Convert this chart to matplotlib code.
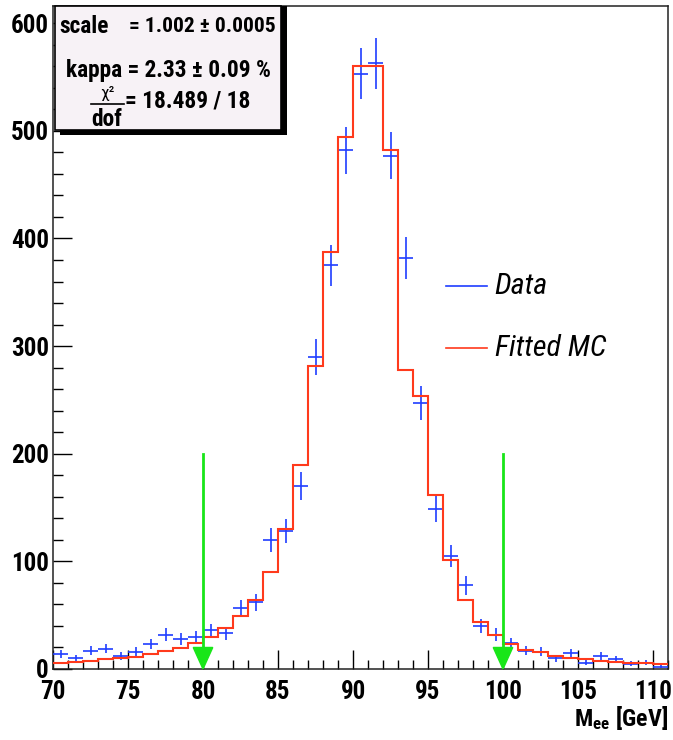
import matplotlib
matplotlib.use('Agg')
import matplotlib.pyplot as plt
from matplotlib import font_manager
from matplotlib.patches import Rectangle, Polygon
from matplotlib.ticker import MultipleLocator
import numpy as np

# 1 GeV bins from 70 to 111
bin_edges = np.arange(70, 112, 1)
data_counts = [14, 10, 17, 19, 12, 16, 23, 32, 28, 30,
               36, 33, 57, 62, 120, 128, 170, 290, 375, 482,
               553, 563, 477, 382, 247, 149, 105, 78, 40, 32,
               24, 17, 16, 10, 15, 6, 12, 9, 5, 6, 2]
mc_counts = [5.6, 6.8, 7.7, 9.3, 10.2, 11.4, 13.9, 17, 19.5, 23.8,
             29.7, 37.7, 49.3, 64, 90.5, 129.7, 190, 281.5, 387, 494.7,
             560, 560, 482, 278, 254, 161.7, 101.6, 64.4, 43.7, 31.3,
             23.5, 18, 15.8, 12.4, 10.5, 9.6, 7.4, 6.8, 5.6, 5.8, 4.3]
cut_positions = [80, 100]
cut_height = 200
legend_labels = ['Data', 'Fitted MC']

# narrow fonts look closer to the ROOT output, if any are installed
names = {f.name for f in font_manager.fontManager.ttflist}
narrow = None
for cand in ['Liberation Sans Narrow', 'Roboto Condensed', 'DejaVu Sans Condensed',
             'Open Sans Condensed', 'Noto Sans Condensed']:
    if cand in names:
        narrow = cand
        break
if narrow is None:
    base = 'Liberation Sans'
    k = 1.0
else:
    base = narrow
    k = 1.2
plt.rcParams['font.family'] = [base, 'DejaVu Sans']
plt.rcParams['mathtext.fontset'] = 'custom'
plt.rcParams['mathtext.rm'] = base + ':bold'
plt.rcParams['mathtext.it'] = base + ':italic:bold'
plt.rcParams['mathtext.bf'] = base + ':bold'

blue = '#1f3dff'
red = '#ff3a1c'
green = '#19e619'

fig = plt.figure(figsize=(6.73, 7.40), dpi=100)
ax = fig.add_axes([53 / 673, 1 - 669 / 740, 615 / 673, 663 / 740])

centers = (bin_edges[:-1] + bin_edges[1:]) / 2
data = np.array(data_counts, dtype=float)
ax.errorbar(centers, data, xerr=0.5, yerr=np.sqrt(data), fmt='none',
            ecolor=blue, elinewidth=1.2, zorder=3)
ax.stairs(mc_counts, bin_edges, baseline=None, color=red, lw=1.5, zorder=4)

# cut arrows
for c in cut_positions:
    ax.plot([c, c], [cut_height, 19], color=green, lw=2, zorder=5)
    ax.add_patch(Polygon([(c - 0.65, 20), (c + 0.65, 20), (c, 0)], closed=True,
                         facecolor=green, edgecolor=green, zorder=5, clip_on=False))

ax.set_xlim(70, 111)
ax.set_ylim(0, 616)
ax.xaxis.set_major_locator(MultipleLocator(5))
ax.xaxis.set_minor_locator(MultipleLocator(1))
ax.yaxis.set_major_locator(MultipleLocator(100))
ax.yaxis.set_minor_locator(MultipleLocator(20))
ax.tick_params(axis='x', which='major', direction='in', length=13.5, width=1, pad=8,
               labelsize=15 * k)
ax.tick_params(axis='x', which='minor', direction='in', length=6.5, width=1)
ax.tick_params(axis='y', which='major', direction='in', length=13.5, width=1, pad=3,
               labelsize=15 * k)
ax.tick_params(axis='y', which='minor', direction='in', length=7, width=1)
for lab in ax.get_xticklabels() + ax.get_yticklabels():
    lab.set_fontweight('bold')
for s in ax.spines.values():
    s.set_linewidth(1.1)
    s.set_color('#222222')

ax.text(111, -52.5, r'$\mathrm{M_{ee}\ [GeV]}$', fontsize=14.5 * k, ha='right',
        va='baseline', clip_on=False)

# stats box
fs = 14 * k
ax.add_patch(Rectangle((70.47, 496), 15.1, 120.4, facecolor='black', edgecolor='none',
                       clip_on=False, zorder=6))
ax.add_patch(Rectangle((70.1, 501), 15.1, 115.4, facecolor='#f7f2f6', edgecolor='black',
                       lw=1.2, clip_on=False, zorder=7))
ax.text(70.45, 597, 'scale', fontsize=fs, fontweight='bold', va='center', zorder=8)
ax.text(75.05, 597, '= 1.002 ± 0.0005', fontsize=fs * 0.92, fontweight='bold',
        va='center', zorder=8)
ax.text(77.7, 556, 'kappa = 2.33 ± 0.09 %', fontsize=fs, fontweight='bold',
        ha='center', va='center', zorder=8)
ax.text(73.6, 534.5, 'χ²', fontsize=fs * 0.75, ha='center', va='center', zorder=8)
ax.plot([72.5, 74.7], [524.5, 524.5], color='black', lw=1.2, zorder=8, clip_on=False)
ax.text(73.6, 511, 'dof', fontsize=fs, fontweight='bold', ha='center', va='center', zorder=8)
ax.text(74.8, 528, '= 18.489 / 18', fontsize=fs, fontweight='bold', va='center', zorder=8)

# legend
for lab, col, y in zip(legend_labels, [blue, red], [356, 298.6]):
    ax.plot([96.2, 98.9], [y, y], color=col, lw=1.2)
    ax.text(99.45, y, lab, fontsize=18 * k, fontstyle='italic', va='center')

fig.savefig('out.png', dpi=100)
